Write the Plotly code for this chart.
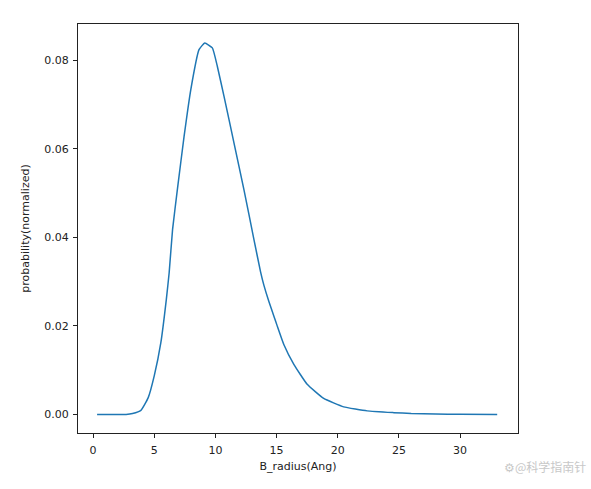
import plotly.graph_objects as go

# values
b_radius = [0.33, 1.0, 2.0, 2.7, 3.23, 3.91, 4.51, 5.0, 5.54, 5.99, 6.22, 6.5, 6.9, 7.44,
            7.99, 8.66, 9.13, 9.75, 10.16, 10.70, 11.52, 12.33, 13.15, 13.69, 13.96, 14.37,
            14.78, 15.05, 15.59, 16.41, 17.5, 18.85, 20.48, 22.4, 24.56, 26.0, 28.0, 30.0, 33.03]
probability = [0.0, 0.0, 0.0, 0.0, 0.0002, 0.0009, 0.0038, 0.0087, 0.0162, 0.026, 0.032,
               0.0418, 0.051, 0.0628, 0.0734, 0.0824, 0.0839, 0.0828, 0.0786, 0.0719,
               0.0613, 0.0508, 0.0395, 0.0322, 0.0292, 0.0255, 0.0222, 0.0200, 0.0158,
               0.0113, 0.0068, 0.0036, 0.0017, 0.0008, 0.0004, 0.0002, 0.0001, 0.00003, 0.0]
x_ticks = [0, 5, 10, 15, 20, 25, 30]
y_ticks = [0.00, 0.02, 0.04, 0.06, 0.08]

fig = go.Figure()
fig.add_trace(go.Scatter(x=b_radius, y=probability, mode="lines",
                         line=dict(color="#1f77b4", width=1.5, shape="spline", smoothing=0.4),
                         showlegend=False))

font = dict(family="DejaVu Sans", size=11, color="#222222")
axis_common = dict(showgrid=False, zeroline=False, showline=True, linecolor="#222222",
                   linewidth=1, mirror=True, ticks="outside", ticklen=4,
                   tickcolor="#222222", tickfont=font, automargin=False)

fig.update_xaxes(range=[-1.23, 34.73], tickvals=x_ticks, ticklabelstandoff=3,
                 title=dict(text="B_radius(Ang)", font=font, standoff=6),
                 **axis_common)
fig.update_yaxes(range=[-0.0042, 0.0882], tickvals=y_ticks, tickformat=".2f",
                 ticklabelstandoff=2,
                 title=dict(text="probability(normalized)", font=font, standoff=12),
                 **axis_common)

fig.add_annotation(text="⚙@科学指南针", xref="paper", yref="paper", x=1.16, y=-0.081,
                   showarrow=False, xanchor="right", yanchor="middle",
                   font=dict(family="Noto Sans CJK SC", size=12, color="#c8c8c8"))

fig.update_layout(width=591, height=489, margin=dict(l=78, r=73, t=24, b=56),
                  paper_bgcolor="white", plot_bgcolor="white", font=font)

fig.write_html("out.html", config={"displayModeBar": False},
               post_script="document.body.style.margin='0';")
